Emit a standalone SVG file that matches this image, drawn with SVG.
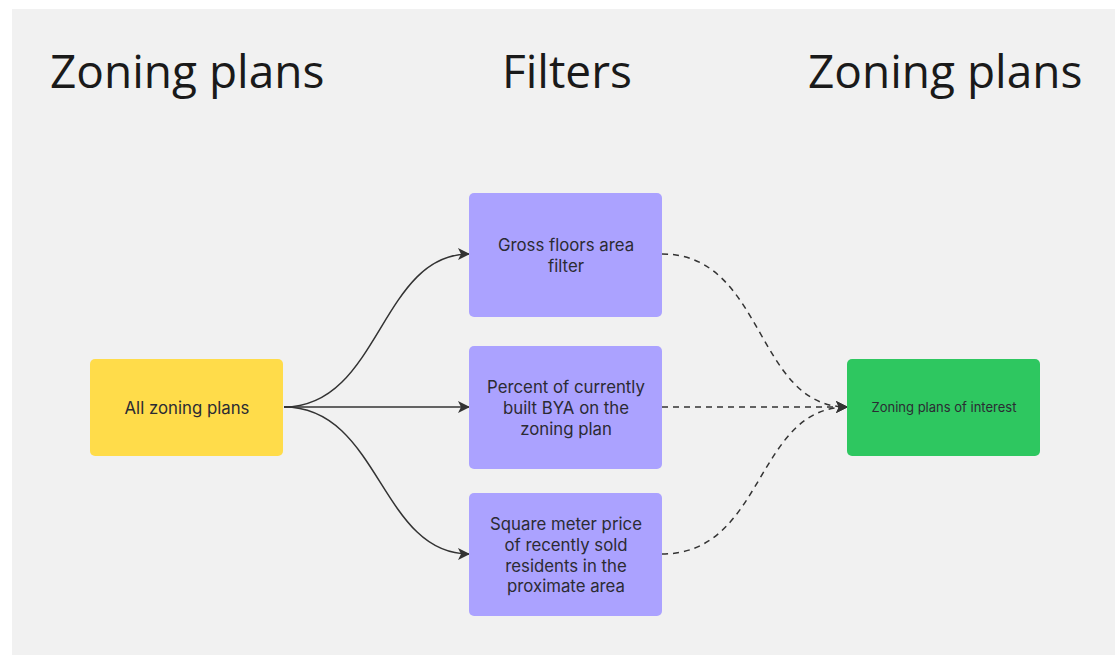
<svg xmlns="http://www.w3.org/2000/svg" width="1115" height="655" viewBox="0 0 1115 655">
<style>
.title{font-family:"Open Sans","Noto Sans",sans-serif;font-size:46px;fill:#1a1a1a}
.lbl{font-family:"Inter","Noto Sans",sans-serif;font-size:16.8px;fill:#2b2b33;text-anchor:middle}
.small{font-size:13px}
.filt{fill:#aba2ff}
.conn{fill:none;stroke:#333;stroke-width:1.5}
.dash{stroke-dasharray:6 5}
</style>
<defs>
<marker id="ah" viewBox="0 0 12 12" refX="11" refY="6" markerWidth="12" markerHeight="12" markerUnits="userSpaceOnUse" orient="auto">
<path d="M0,0 L12,6 L0,12 L3,6 Z" fill="#333"/>
</marker>
</defs>
<rect x="0" y="0" width="1115" height="655" fill="#ffffff"/>
<rect x="12" y="9" width="1103" height="646" fill="#f1f1f1"/>
<text class="title" x="50" y="88">Zoning plans</text>
<text class="title" x="502" y="88">Filters</text>
<text class="title" x="808" y="88">Zoning plans</text>
<g id="connectors">
<path class="conn" d="M284,407 C380,407 380,254 469,254" marker-end="url(#ah)"/>
<path class="conn" d="M284,407 L469,407" marker-end="url(#ah)"/>
<path class="conn" d="M284,407 C380,407 380,554 469,554" marker-end="url(#ah)"/>
<path class="conn dash" d="M662,254 C765,254 755,407 847,407" marker-end="url(#ah)"/>
<path class="conn dash" d="M662,407 L847,407" marker-end="url(#ah)"/>
<path class="conn dash" d="M662,554 C765,554 755,407 847,407" marker-end="url(#ah)"/>
</g>
<g id="all">
<rect x="90" y="359" width="193" height="97" rx="5" fill="#ffdc4a"/>
<text class="lbl" x="187" y="414">All zoning plans</text>
</g>
<g id="f1">
<rect class="filt" x="469" y="193" width="193" height="124" rx="5"/>
<text class="lbl" x="566" y="251">Gross floors area</text>
<text class="lbl" x="566" y="272">filter</text>
</g>
<g id="f2">
<rect class="filt" x="469" y="346" width="193" height="123" rx="5"/>
<text class="lbl" x="566" y="393">Percent of currently</text>
<text class="lbl" x="566" y="414">built BYA on the</text>
<text class="lbl" x="566" y="435">zoning plan</text>
</g>
<g id="f3">
<rect class="filt" x="469" y="493" width="193" height="123" rx="5"/>
<text class="lbl" x="566" y="530">Square meter price</text>
<text class="lbl" x="566" y="551">of recently sold</text>
<text class="lbl" x="566" y="572">residents in the</text>
<text class="lbl" x="566" y="592">proximate area</text>
</g>
<g id="out">
<rect x="847" y="359" width="193" height="97" rx="5" fill="#2ec760"/>
<text class="lbl small" x="944" y="412">Zoning plans of interest</text>
</g>
</svg>
